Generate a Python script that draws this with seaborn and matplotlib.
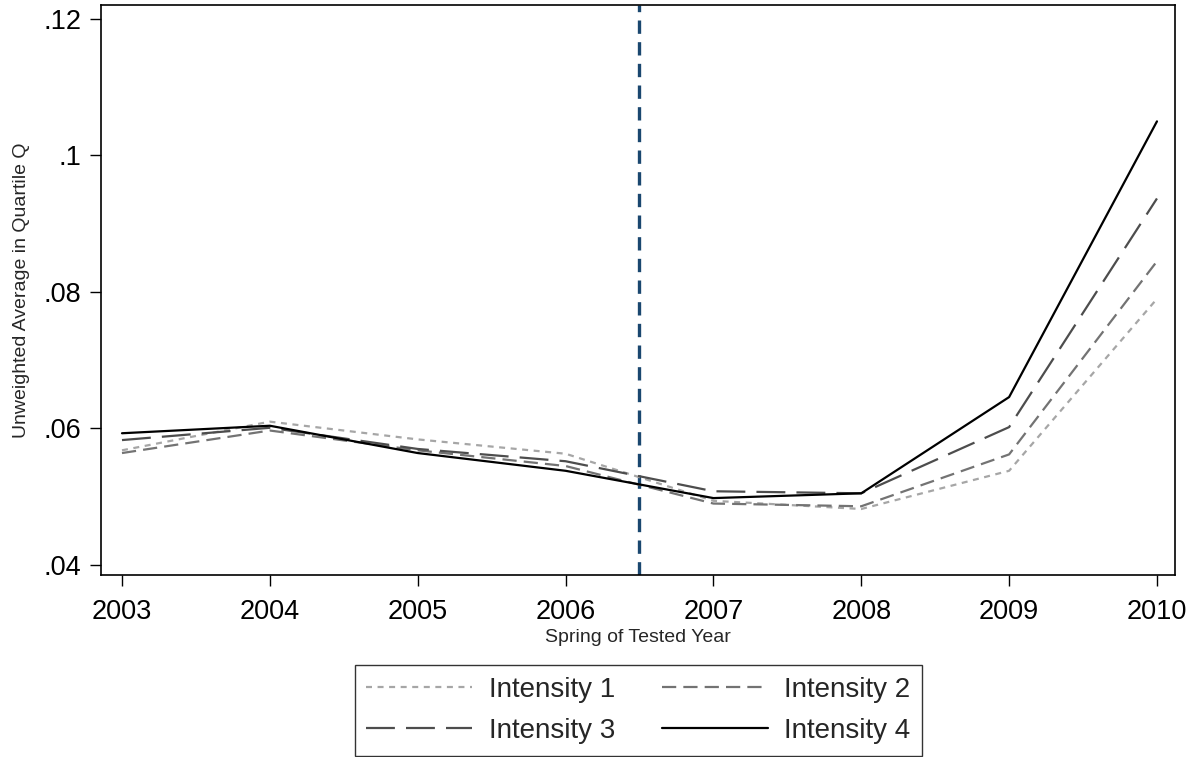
import pandas as pd
import seaborn as sns
import matplotlib.pyplot as plt

# values
years = [2003, 2004, 2005, 2006, 2007, 2008, 2009, 2010]
intensity_1 = [0.0568, 0.0610, 0.0584, 0.0563, 0.0494, 0.0482, 0.0538, 0.0790]
intensity_2 = [0.0564, 0.0597, 0.0568, 0.0545, 0.0490, 0.0486, 0.0562, 0.0845]
intensity_3 = [0.0583, 0.0601, 0.0570, 0.0552, 0.0508, 0.0505, 0.0602, 0.0937]
intensity_4 = [0.0593, 0.0604, 0.0564, 0.0538, 0.0498, 0.0505, 0.0646, 0.1050]
series_names = ["Intensity 1", "Intensity 2", "Intensity 3", "Intensity 4"]
cutoff_year = 2006.5
y_ticks = [0.04, 0.06, 0.08, 0.10, 0.12]
y_tick_labels = [".04", ".06", ".08", ".1", ".12"]

df = pd.concat([
    pd.DataFrame({"year": years, "value": vals, "series": name})
    for name, vals in zip(series_names, [intensity_1, intensity_2, intensity_3, intensity_4])
])

sns.set_style("ticks")
plt.rcParams['font.family'] = ['Liberation Sans', 'DejaVu Sans']

fig = plt.figure(figsize=(12.03, 7.57), dpi=100)
ax = fig.add_axes([101 / 1203, 1 - 575 / 757, (1175 - 101) / 1203, (575 - 5) / 757])

palette = {"Intensity 1": "#a6a6a6", "Intensity 2": "#737373",
           "Intensity 3": "#4d4d4d", "Intensity 4": "#000000"}
dashes = {"Intensity 1": (2.7, 2.5), "Intensity 2": (6.4, 3.2),
          "Intensity 3": (13, 5), "Intensity 4": ""}

sns.lineplot(data=df, x="year", y="value", hue="series", style="series",
             palette=palette, dashes=dashes, linewidth=1.6, ax=ax)

ax.axvline(cutoff_year, color="#1a476f", linestyle=(0, (4, 2.5)), linewidth=2.4, zorder=0)

ax.set_xlim(2002.858, 2010.122)
ax.set_ylim(0.03853, 0.12205)
ax.set_xticks(years)
ax.set_xticklabels([str(y) for y in years])
ax.set_yticks(y_ticks)
ax.set_yticklabels(y_tick_labels)
ax.tick_params(labelsize=19.5, length=8, width=1, direction="out", colors="black", pad=6)
ax.tick_params(axis="x", pad=9)
ax.set_xlabel("Spring of Tested Year", fontsize=14, labelpad=3)
ax.set_ylabel("Unweighted Average in Quartile Q", fontsize=14, labelpad=10)
for s in ax.spines.values():
    s.set_visible(True)
    s.set_color("black")
    s.set_linewidth(1.2)

handles, labels = ax.get_legend_handles_labels()
ax.get_legend().remove()
# row-major order: 1, 2 on top row; 3, 4 below
order = [0, 2, 1, 3]
leg = fig.legend([handles[i] for i in order], [labels[i] for i in order],
                 loc="center", bbox_to_anchor=(638.5 / 1203, 1 - 710.5 / 757),
                 ncol=2, fontsize=20, frameon=True, fancybox=False, edgecolor="black",
                 handlelength=3.8, handletextpad=0.6, columnspacing=1.7,
                 labelspacing=0.55, borderpad=0.42, borderaxespad=0)
leg.get_frame().set_linewidth(1.0)

fig.savefig("out.png", dpi=100)
